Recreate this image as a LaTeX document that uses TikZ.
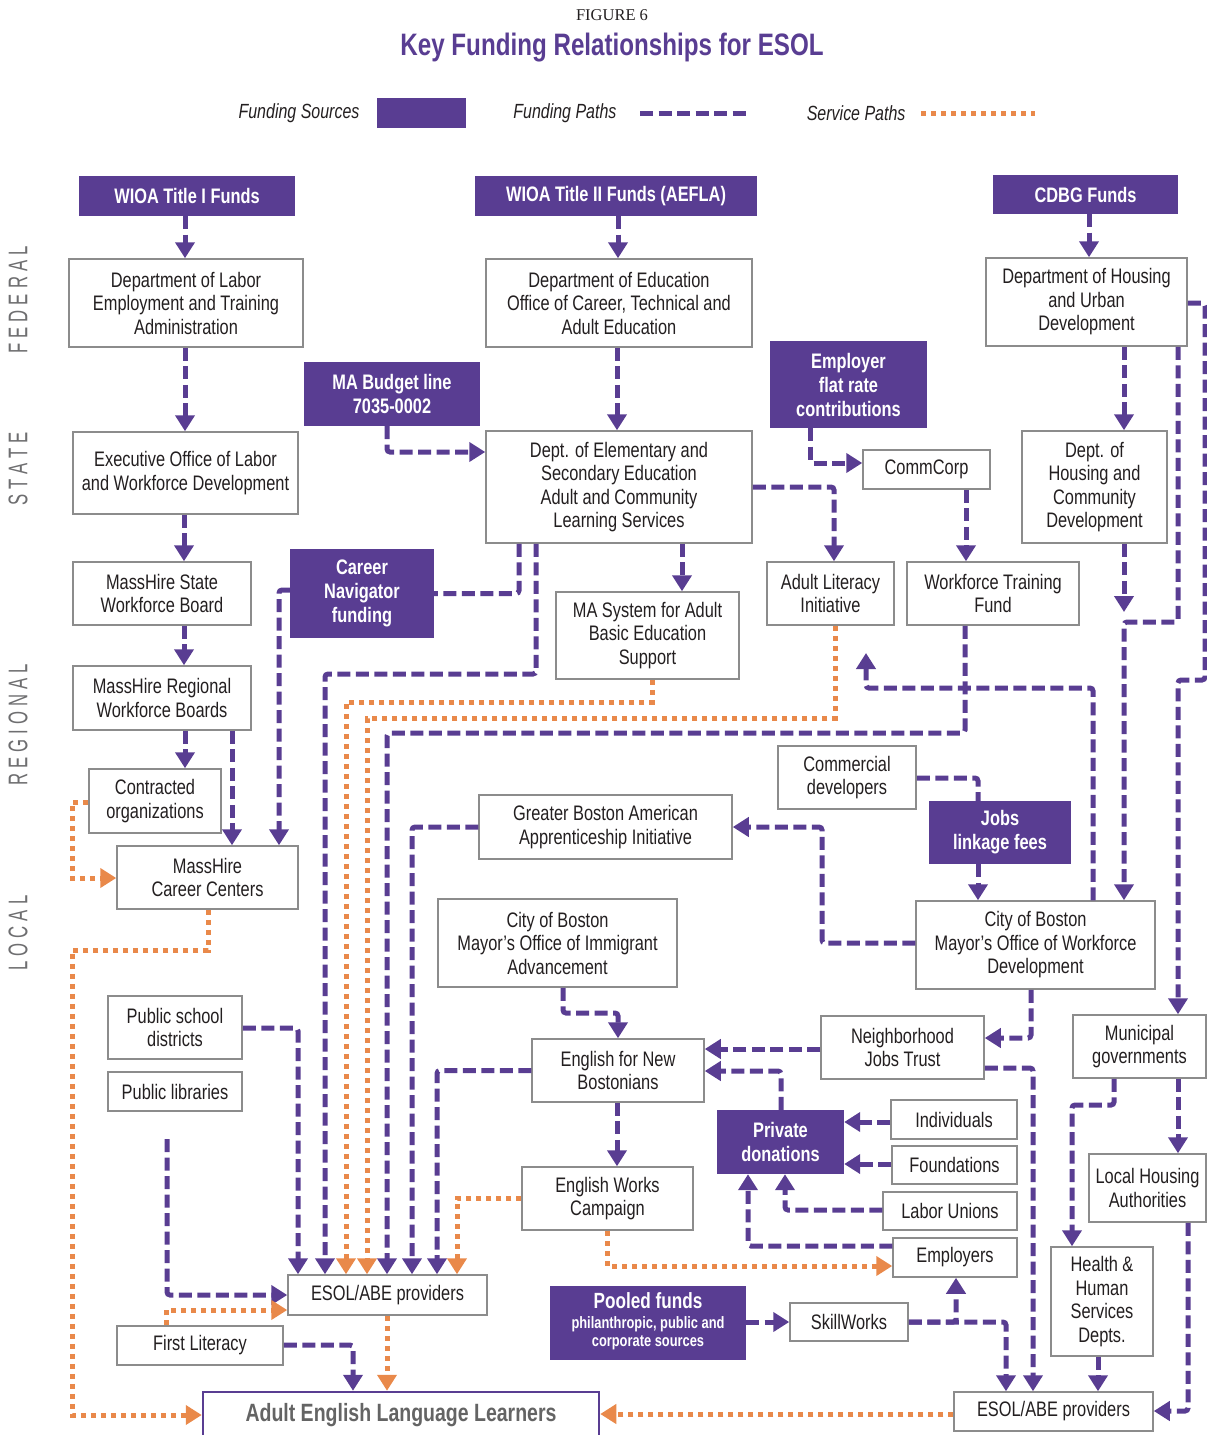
\documentclass[tikz,border=0pt]{standalone}
\usepackage{fontspec}
\setmainfont{Liberation Sans}[FakeStretch=0.78]
\newfontfamily\serifc{Liberation Serif}
\newfontfamily\sidef{Liberation Sans}[FakeStretch=0.62]
\usetikzlibrary{arrows.meta}
\definecolor{purp}{RGB}{89,61,146}
\definecolor{orng}{RGB}{233,137,74}
\definecolor{boxgray}{RGB}{140,140,140}
\definecolor{txt}{RGB}{35,31,32}
\definecolor{sidegray}{RGB}{110,110,112}
\definecolor{aelgray}{RGB}{100,100,100}
\newcommand\ls{\hspace{5pt}}
\newcommand\smf{\fontsize{16.5}{18}\selectfont}
\newcommand\bx[7]{%
 \pgfmathsetmacro\bxcx{(#3+#5)/2}\pgfmathsetmacro\bxcy{(#4+#6)/2}%
 \pgfmathsetmacro\bxww{#5-#3}\pgfmathsetmacro\bxhh{#6-#4}%
 \node[#1,minimum width=\bxww pt,minimum height=\bxhh pt] (#2) at (\bxcx,\bxcy) {#7};}
\begin{document}
\begin{tikzpicture}[x=1pt,y=-1pt,
 wbox/.style={draw=boxgray, line width=1.5pt, fill=white, align=center, inner sep=0pt, text=txt, font=\fontsize{21}{23.5}\selectfont},
 pbox/.style={fill=purp, align=center, inner sep=0pt, text=white, font=\bfseries\fontsize{21}{24}\selectfont},
 aelbox/.style={draw=purp, line width=2.5pt, fill=white, inner sep=0pt, text=aelgray, font=\bfseries\fontsize{25}{28}\selectfont},
 fund/.style={draw=purp, line width=5pt, dash pattern=on 13pt off 5.5pt, rounded corners=3pt},
 serv/.style={draw=orng, line width=5pt, dash pattern=on 5pt off 5pt},
 arr/.style={-{Triangle[width=19pt,length=16pt]}},
 side/.style={rotate=90, text=sidegray, font=\sidef\fontsize{27}{27}\selectfont},
 legtext/.style={anchor=east, text=txt, font=\itshape\fontsize{20.5}{22}\selectfont}
]
\useasboundingbox (0,0) rectangle (1207,1435);
\clip (0,0) rectangle (1207,1435);

% title
\node[font=\serifc\fontsize{16.5}{18}\selectfont, text=txt] (fig) at (612,15) {FIGURE 6};
\node[font=\bfseries\fontsize{31}{34}\selectfont, text=purp] (title) at (612,48) {Key Funding Relationships for ESOL};

% legend
\node[legtext] (lgfs) at (363,113) {Funding Sources};
\node[fill=purp, minimum width=89pt, minimum height=30pt, inner sep=0pt] (lgbox) at (421.5,113) {};
\node[legtext] (lgfp) at (620,113) {Funding Paths};
\node[legtext] (lgsp) at (909,113) {Service Paths};
\coordinate (lgf1) at (640,113); \coordinate (lgf2) at (750,113);
\coordinate (lgs1) at (921,113); \coordinate (lgs2) at (1035,113);
\draw[fund] (lgf1) -- (lgf2);
\draw[serv] (lgs1) -- (lgs2);

% side labels
\node[side] (lfed) at (18,300) {F\ls E\ls D\ls E\ls R\ls A\ls L};
\node[side] (lsta) at (18,469) {S\ls T\ls A\ls T\ls E};
\node[side] (lreg) at (18,725) {R\ls E\ls G\ls I\ls O\ls N\ls A\ls L};
\node[side] (lloc) at (18,933) {L\ls O\ls C\ls A\ls L};

% funding sources
\bx{pbox}{wioa1}{79}{176}{295}{216}{WIOA Title I Funds}
\bx{pbox}{wioa2}{475}{176}{757}{216}{WIOA Title II Funds (AEFLA)}
\bx{pbox}{cdbg}{993}{175}{1178}{214}{CDBG Funds}
\bx{pbox}{mab}{304}{362}{480}{426}{MA Budget line\\7035-0002}
\bx{pbox}{ef}{770}{341}{927}{428}{Employer\\flat rate\\contributions}
\bx{pbox}{cn}{290}{549}{434}{638}{Career\\Navigator\\funding}
\bx{pbox}{jlf}{929}{801}{1071}{864}{Jobs\\linkage fees}
\bx{pbox}{pd}{717}{1110}{844}{1174}{Private\\donations}
\bx{pbox}{pf}{550}{1286}{746}{1360}{\begin{tabular}{@{}c@{}}{\fontsize{22}{24}\selectfont Pooled funds}\\[-4pt]{\smf philanthropic, public and}\\[-6pt]{\smf corporate sources}\end{tabular}}

% white boxes
\bx{wbox}{dol}{69}{259}{303}{347}{Department of Labor\\Employment and Training\\Administration}
\bx{wbox}{doe}{486}{259}{752}{347}{Department of Education\\Office of Career, Technical and\\Adult Education}
\bx{wbox}{hud}{986}{258}{1187}{346}{Department of Housing\\and Urban\\Development}
\bx{wbox}{eolwd}{73}{432}{298}{514}{Executive Office of Labor\\and Workforce Development}
\bx{wbox}{dese}{486}{431}{752}{543}{Dept. of Elementary and\\Secondary Education\\Adult and Community\\Learning Services}
\bx{wbox}{commcorp}{863}{450}{990}{489}{CommCorp}
\bx{wbox}{dhcd}{1022}{431}{1167}{543}{Dept. of\\Housing and\\Community\\Development}
\bx{wbox}{mhstate}{73}{562}{251}{625}{MassHire State\\Workforce Board}
\bx{wbox}{masys}{556}{592}{739}{679}{MA System for Adult\\Basic Education\\Support}
\bx{wbox}{ali}{767}{562}{894}{625}{Adult Literacy\\Initiative}
\bx{wbox}{wtf}{907}{562}{1079}{625}{Workforce Training\\Fund}
\bx{wbox}{mhreg}{73}{666}{251}{730}{MassHire Regional\\Workforce Boards}
\bx{wbox}{contr}{89}{769}{221}{833}{Contracted\\organizations}
\bx{wbox}{comdev}{778}{746}{916}{809}{Commercial\\developers}
\bx{wbox}{gbaai}{479}{795}{732}{859}{Greater Boston American\\Apprenticeship Initiative}
\bx{wbox}{cc}{117}{846}{298}{909}{MassHire\\Career Centers}
\bx{wbox}{moia}{438}{899}{677}{987}{City of Boston\\Mayor’s Office of Immigrant\\Advancement}
\bx{wbox}{mowd}{916}{901}{1155}{989}{City of Boston\\Mayor’s Office of Workforce\\Development}
\bx{wbox}{psd}{108}{996}{242}{1059}{Public school\\districts}
\bx{wbox}{publib}{108}{1072}{242}{1111}{Public libraries}
\bx{wbox}{njt}{821}{1016}{984}{1079}{Neighborhood\\Jobs Trust}
\bx{wbox}{muni}{1073}{1015}{1206}{1078}{Municipal\\governments}
\bx{wbox}{enb}{532}{1039}{704}{1102}{English for New\\Bostonians}
\bx{wbox}{indiv}{891}{1100}{1017}{1139}{Individuals}
\bx{wbox}{found}{892}{1146}{1017}{1184}{Foundations}
\bx{wbox}{lha}{1089}{1154}{1206}{1222}{Local Housing\\Authorities}
\bx{wbox}{ewc}{522}{1167}{693}{1230}{English Works\\Campaign}
\bx{wbox}{lu}{883}{1192}{1017}{1230}{Labor Unions}
\bx{wbox}{emp}{893}{1238}{1017}{1277}{Employers}
\bx{wbox}{hhs}{1051}{1247}{1153}{1356}{Health \&\\Human\\Services\\Depts.}
\bx{wbox}{esol1}{288}{1275}{487}{1315}{ESOL/ABE providers}
\bx{wbox}{sw}{790}{1303}{908}{1341}{SkillWorks}
\bx{wbox}{fl}{117}{1326}{283}{1365}{First Literacy}
\bx{wbox}{esol2}{954}{1392}{1153}{1431}{ESOL/ABE providers}
\bx{aelbox}{ael}{203}{1392}{599}{1438}{Adult English Language Learners}

\coordinate (dhcdend) at (1124,612);
\coordinate (alitip) at (866,653);
\coordinate (libtop) at (167,1139);

% funding paths
\draw[fund,arr] (185,0 |- wioa1.south) -- (185,0 |- dol.north);
\draw[fund,arr] (618,0 |- wioa2.south) -- (618,0 |- doe.north);
\draw[fund,arr] (1089,0 |- cdbg.south) -- (1089,0 |- hud.north);
\draw[fund,arr] (185,0 |- dol.south) -- (185,0 |- eolwd.north);
\draw[fund,arr] (617,0 |- doe.south) -- (617,0 |- dese.north);
\draw[fund,arr] (1124,0 |- hud.south) -- (1124,0 |- dhcd.north);
\draw[fund,arr] (387,0 |- mab.south) |- (dese.west |- 0,452);
\draw[fund,arr] (810,0 |- ef.south) |- (commcorp.west |- 0,463);
\draw[fund,arr] (184,0 |- eolwd.south) -- (184,0 |- mhstate.north);
\draw[fund,arr] (dese.east) -| (834,0 |- ali.north);
\draw[fund,arr] (966,0 |- commcorp.south) -- (966,0 |- wtf.north);
\draw[fund,arr] (682,0 |- dese.south) -- (682,0 |- masys.north);
\draw[fund] (519,0 |- dese.south) |- (cn.east);
\draw[fund,arr] (1124,0 |- dhcd.south) -- (dhcdend);
\draw[fund,arr] (1178,0 |- hud.south) |- (1124,622) -- (1124,0 |- mowd.north);
\draw[fund,arr] (hud.east |- 0,303) -- (1205,303) |- (1178,680) -- (1178,0 |- muni.north);
\draw[fund,arr] (184,0 |- mhstate.south) -- (184,0 |- mhreg.north);
\draw[fund,arr] (185,0 |- mhreg.south) -- (185,0 |- contr.north);
\draw[fund,arr] (232,0 |- mhreg.south) -- (232,0 |- cc.north);
\draw[fund,arr] (cn.west |- 0,590) -| (279,0 |- cc.north);
\draw[fund,arr] (536,0 |- dese.south) |- (325,674) -- (325,0 |- esol1.north);
\draw[fund,arr] (965,0 |- wtf.south) |- (387,733) -- (387,0 |- esol1.north);
\draw[fund,arr] (1093,0 |- mowd.north) |- (866,688) -- (alitip);
\draw[fund] (comdev.east |- 0,778) -| (978,0 |- jlf.north);
\draw[fund,arr] (978,0 |- jlf.south) -- (978,0 |- mowd.north);
\draw[fund,arr] (mowd.west |- 0,943) -| (822,827) -- (gbaai.east);
\draw[fund,arr] (gbaai.west) -| (412,0 |- esol1.north);
\draw[fund,arr] (563,0 |- moia.south) |- (618,1013) -- (618,0 |- enb.north);
\draw[fund,arr] (1031,0 |- mowd.south) |- (njt.east |- 0,1038);
\draw[fund,arr] (njt.west |- 0,1049) -- (enb.east |- 0,1049);
\draw[fund,arr] (enb.west) -| (437,0 |- esol1.north);
\draw[fund,arr] (psd.east |- 0,1028) -| (298,0 |- esol1.north);
\draw[fund,arr] (1114,0 |- muni.south) |- (1072,1105) -- (1072,0 |- hhs.north);
\draw[fund,arr] (1178,0 |- muni.south) -- (1178,0 |- lha.north);
\draw[fund,arr] (njt.east |- 0,1068) -| (1033,0 |- esol2.north);
\draw[fund,arr] (781,0 |- pd.north) |- (enb.east |- 0,1071);
\draw[fund,arr] (617,0 |- enb.south) -- (617,0 |- ewc.north);
\draw[fund,arr] (indiv.west |- 0,1122) -- (pd.east |- 0,1122);
\draw[fund,arr] (found.west |- 0,1164) -- (pd.east |- 0,1164);
\draw[fund,arr] (lu.west |- 0,1210) -| (785,0 |- pd.south);
\draw[fund,arr] (emp.west |- 0,1246) -| (748,0 |- pd.south);
\draw[fund,arr] (libtop) |- (esol1.west |- 0,1295);
\draw[fund,arr] (pf.east |- 0,1322) -- (sw.west |- 0,1322);
\draw[fund,arr] (sw.east |- 0,1322) -| (956,0 |- emp.south);
\draw[fund,arr] (sw.east |- 0,1322) -| (1006,0 |- esol2.north);
\draw[fund,arr] (1188,0 |- lha.south) |- (esol2.east |- 0,1411);
\draw[fund,arr] (1098,0 |- hhs.south) -- (1098,0 |- esol2.north);
\draw[fund,arr] (fl.east |- 0,1345) -| (353,0 |- ael.north);

% service paths
\draw[serv,arr] (contr.west |- 0,802) -| (72,878) -- (cc.west |- 0,878);
\draw[serv,arr] (208,0 |- cc.south) |- (72,950) |- (ael.west);
\draw[serv,arr] (652,0 |- masys.south) |- (346,702) -- (346,0 |- esol1.north);
\draw[serv,arr] (835,0 |- ali.south) |- (367,718) -- (367,0 |- esol1.north);
\draw[serv,arr] (ewc.west) -| (457,0 |- esol1.north);
\draw[serv,arr] (607,0 |- ewc.south) |- (emp.west |- 0,1266);
\draw[serv,arr] (166,0 |- fl.north) |- (esol1.west |- 0,1310);
\draw[serv,arr] (387,0 |- esol1.south) -- (387,0 |- ael.north);
\draw[serv,arr] (esol2.west |- 0,1414) -- (ael.east |- 0,1414);
\end{tikzpicture}
\end{document}
